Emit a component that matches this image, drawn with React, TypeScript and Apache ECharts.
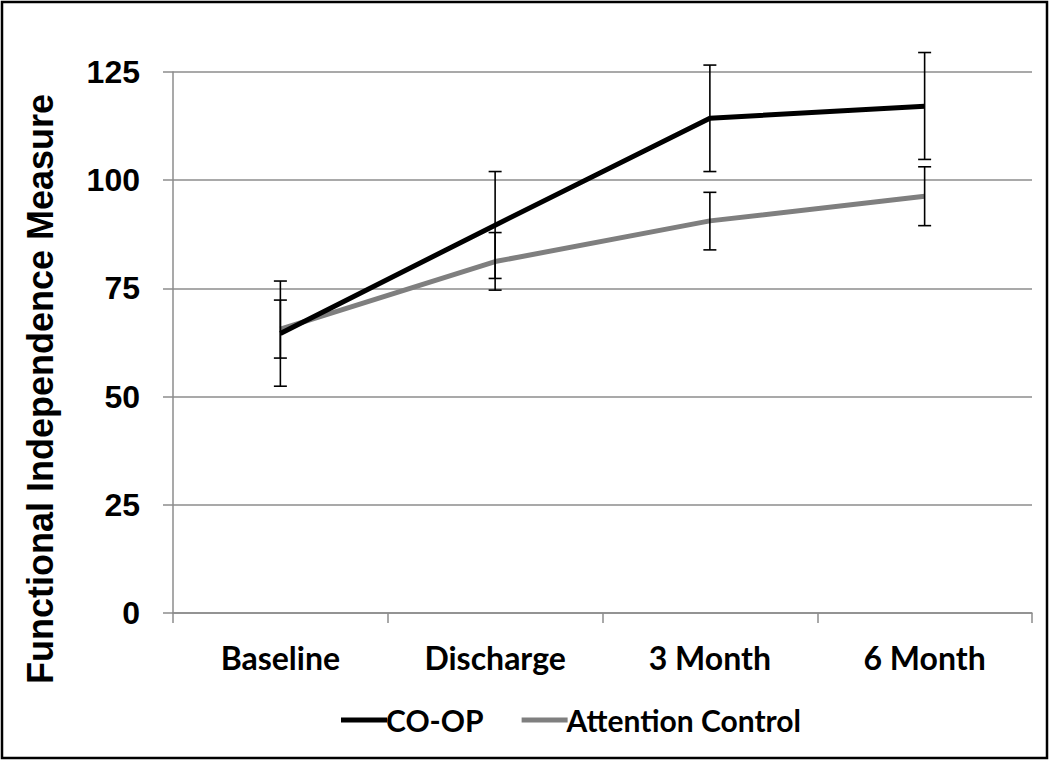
import React, { useEffect, useRef } from "react";
import * as echarts from "echarts";

const categories = ["Baseline", "Discharge", "3 Month", "6 Month"];
const coopMean = [64.6, 89.6, 114.3, 117.1];
const coopLow = [52.4, 77.3, 102.0, 104.8];
const coopHigh = [76.7, 102.0, 126.6, 129.5];
const ctrlMean = [65.6, 81.2, 90.6, 96.3];
const ctrlLow = [58.9, 74.6, 83.9, 89.5];
const ctrlHigh = [72.3, 87.9, 97.2, 103.1];
const yTitle = "Functional Independence Measure";

const errData = (low: number[], high: number[]) =>
  categories.map((_, i) => [i, low[i], high[i]]);

const renderErr = (params: any, api: any) => {
  const i = api.value(0);
  const lo = api.coord([i, api.value(1)]);
  const hi = api.coord([i, api.value(2)]);
  const cap = 6.5;
  const style = { stroke: "#000", lineWidth: 1.6 };
  return {
    type: "group",
    children: [
      { type: "line", shape: { x1: lo[0], y1: lo[1], x2: hi[0], y2: hi[1] }, style },
      { type: "line", shape: { x1: lo[0] - cap, y1: lo[1], x2: lo[0] + cap, y2: lo[1] }, style },
      { type: "line", shape: { x1: hi[0] - cap, y1: hi[1], x2: hi[0] + cap, y2: hi[1] }, style },
    ],
  };
};

export default function App() {
  const ref = useRef<HTMLDivElement>(null);
  useEffect(() => {
    if (!ref.current) return;
    const chart = echarts.init(ref.current, null, { renderer: "svg" });
    chart.setOption({
      animation: false,
      backgroundColor: "#fff",
      grid: { left: 173, right: 18, top: 72, bottom: 148 },
      xAxis: {
        type: "category",
        data: categories,
        boundaryGap: true,
        axisLine: { lineStyle: { color: "#8c8c8c", width: 1.5 } },
        axisTick: { show: true, length: 10, lineStyle: { color: "#8c8c8c", width: 1.5 } },
        axisLabel: {
          color: "#000",
          fontFamily: "Lato",
          fontWeight: "bold",
          fontSize: 32,
          margin: 28,
        },
      },
      yAxis: {
        type: "value",
        min: 0,
        max: 125,
        interval: 25,
        axisLine: { show: true, lineStyle: { color: "#8c8c8c", width: 1.5 } },
        axisTick: { show: true, length: 10, lineStyle: { color: "#8c8c8c", width: 1.5 } },
        splitLine: { lineStyle: { color: "#8c8c8c", width: 1.5 } },
        axisLabel: {
          color: "#000",
          fontFamily: "Liberation Sans",
          fontWeight: "bold",
          fontSize: 32,
          margin: 33,
        },
      },
      legend: {
        data: ["CO-OP", "Attention Control"],
        top: 700,
        left: 336,
        icon: "rect",
        itemWidth: 46,
        itemHeight: 5,
        itemGap: 38,
        textStyle: { color: "#000", fontFamily: "Lato", fontWeight: "bold", fontSize: 30, padding: [0, 0, 0, -6] },
      },
      series: [
        {
          name: "CO-OP",
          type: "line",
          data: coopMean,
          symbol: "none",
          lineStyle: { color: "#000", width: 5 },
          itemStyle: { color: "#000" },
          z: 3,
        },
        {
          name: "Attention Control",
          type: "line",
          data: ctrlMean,
          symbol: "none",
          lineStyle: { color: "#7f7f7f", width: 5 },
          itemStyle: { color: "#7f7f7f" },
          z: 2,
        },
        { type: "custom", name: "coopErr", data: errData(coopLow, coopHigh), renderItem: renderErr, z: 5 },
        { type: "custom", name: "ctrlErr", data: errData(ctrlLow, ctrlHigh), renderItem: renderErr, z: 5 },
      ],
      graphic: [
        {
          type: "text",
          x: 40,
          y: 389,
          rotation: Math.PI / 2,
          style: {
            text: yTitle,
            fill: "#000",
            font: "bold 36px 'Liberation Sans'",
            align: "center",
            verticalAlign: "middle",
          },
        },
        {
          type: "rect",
          shape: { x: 2, y: 2, width: 1045, height: 756 },
          style: { fill: "none", stroke: "#000", lineWidth: 2.5 },
          silent: true,
        },
      ],
    });
    return () => chart.dispose();
  }, []);
  return (
    <div
      ref={ref}
      style={{ position: "fixed", left: 0, top: 0, width: 1050, height: 761 }}
    />
  );
}
